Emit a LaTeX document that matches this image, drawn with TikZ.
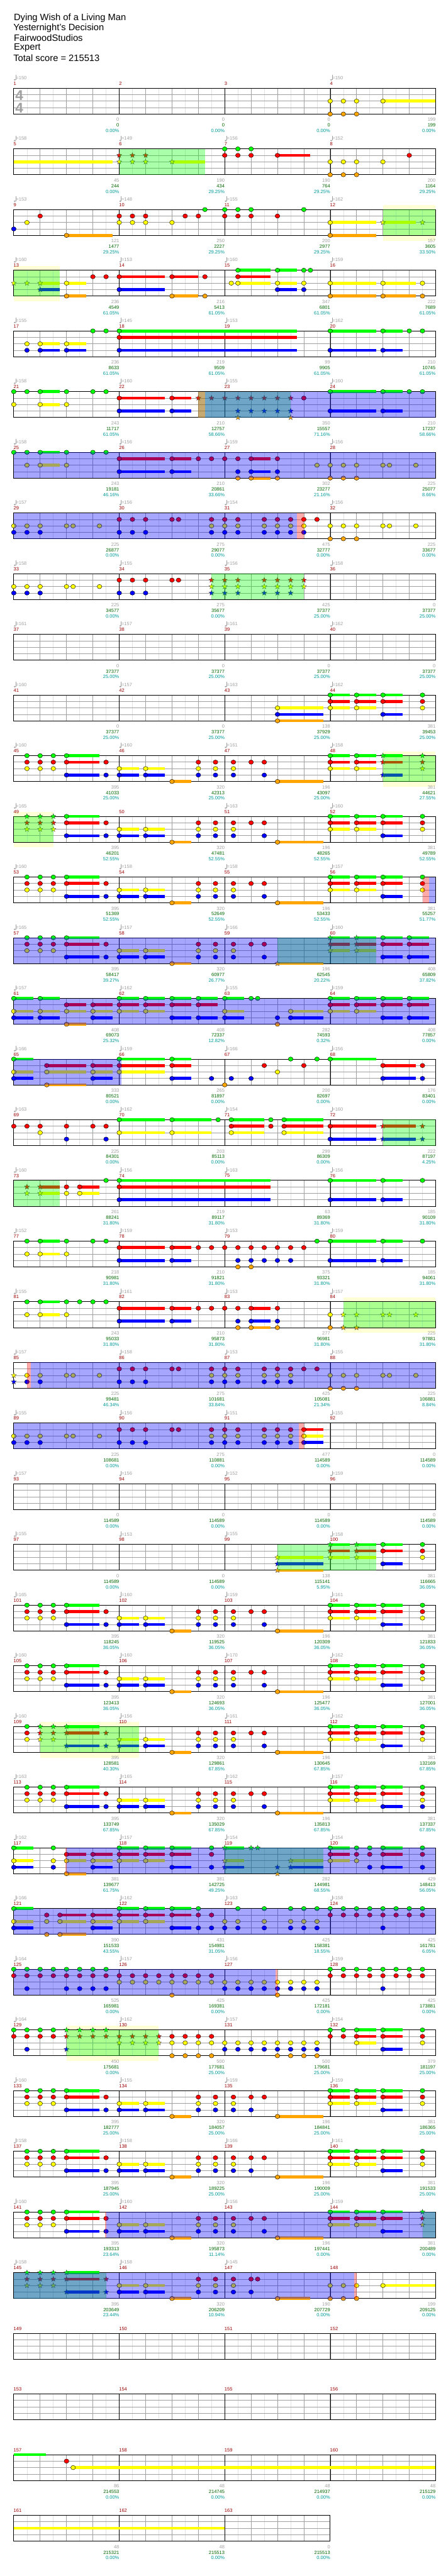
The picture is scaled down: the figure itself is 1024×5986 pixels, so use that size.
\documentclass[tikz,border=0pt]{standalone}
\usepackage{fontspec}
\setmainfont{Liberation Sans}
\usetikzlibrary{shapes.geometric}
\definecolor{fretg}{RGB}{0,255,0}
\definecolor{fretr}{RGB}{255,0,0}
\definecolor{frety}{RGB}{255,255,0}
\definecolor{fretb}{RGB}{0,0,255}
\definecolor{freto}{RGB}{255,165,0}
\definecolor{spgreen}{RGB}{0,255,0}
\definecolor{spblue}{RGB}{0,0,255}
\definecolor{lagred}{RGB}{255,0,0}
\definecolor{unicolor}{RGB}{255,255,214}
\definecolor{numred}{RGB}{153,0,0}
\definecolor{tempogray}{RGB}{160,160,160}
\definecolor{scoregreen}{RGB}{0,102,0}
\definecolor{pctteal}{RGB}{0,153,153}
\definecolor{gridgray}{RGB}{160,160,160}
\definecolor{halfgray}{RGB}{226,226,226}
\pgfdeclarelayer{bg}
\pgfdeclarelayer{fg}
\pgfsetlayers{bg,main,fg}

\def\yg{0}\def\yr{15}\def\yy{30}\def\yb{45}\def\yo{60}
\newcommand\gems[2]{\foreach \xx in {#2}{\node[gem,fill=fret#1] at ({\xx*61.25},\csname y#1\endcsname) {};}}
\newcommand\stars[2]{\foreach \xx in {#2}{\node[stargem,fill=fret#1] at ({\xx*61.25},\csname y#1\endcsname) {};}}
\newcommand\tails[2]{\foreach \aa/\bb in {#2}{\fill[fret#1] ({\aa*61.25},{\csname y#1\endcsname-3.4}) rectangle ({\bb*61.25},{\csname y#1\endcsname+3.4});}}
\newcommand\phrase[2]{\begin{pgfonlayer}{fg}\fill[spgreen,fill opacity=0.333] ({#1*61.25},0) rectangle ({#2*61.25},60);\end{pgfonlayer}}
\newcommand\spzone[2]{\begin{pgfonlayer}{fg}\fill[spblue,fill opacity=0.35] ({#1*61.25},0) rectangle ({#2*61.25},60);\end{pgfonlayer}}
\newcommand\lagzone[2]{\begin{pgfonlayer}{fg}\fill[lagred,fill opacity=0.333] ({#1*61.25},0) rectangle ({#2*61.25},60);\end{pgfonlayer}}
\newcommand\uniband[2]{\begin{pgfonlayer}{bg}\fill[unicolor] ({#1*61.25},-10) rectangle ({#2*61.25},72);\end{pgfonlayer}}

\newcommand\staff[1]{%
  \pgfmathtruncatemacro\nbeat{4*#1}%
  \pgfmathtruncatemacro\nmeas{#1-1}%
  \foreach \j in {1,...,\nbeat}{\draw[halfbeat] ({(\j-0.5)*61.25},0) -- ++(0,60);}
  \foreach \j in {1,...,\nbeat}{\draw[beatline] ({\j*61.25},0) -- ++(0,60);}
  \foreach \l in {15,30,45}{\draw[beatline] (0,\l) -- ({#1*245},\l);}
  \foreach \j in {1,...,\nmeas}{\draw[barline] ({\j*245},0) -- ++(0,60);}
  \draw[frame] (0,0) rectangle ({#1*245},60);}

\newcommand\mlab[6]{%
  \node[mnum] at ({#1*245-0.5},-11) {#2};
  \if\relax\detokenize{#3}\relax\else
    \fill[tempogray] ({#1*245+2.3},-19.5) ellipse (2.3 and 1.7);
    \draw[tempogray,line width=0.7pt] ({#1*245+4.4},-19.5) -- ++(0,-11);
    \node[tempo] at ({#1*245+5},-24) {=#3};
  \fi
  \node[pts] at ({#1*245+245},73) {#4};
  \node[score] at ({#1*245+245},86) {#5};
  \node[pct] at ({#1*245+245},99) {#6};}

\newenvironment{chartrow}[2][4]{\begin{scope}[shift={(32,{205+141*#2})}]\staff{#1}}{\end{scope}}

\newcommand\riffhead{\gems{g}{0.5,1,1.5}\gems{r}{0.5,1,1.5}\gems{y}{0.5,1,1.5}}
\newcommand\riffbody[1][9.5]{%
  \tails{g}{2/3.24}\tails{r}{2/3.24}\tails{y}{4/4.74,5/5.74}
  \tails{b}{2/3.24,4/4.74,5/5.74}\tails{o}{6/6.74}
  \gems{g}{2}\gems{r}{2,3.5,7,7.65,8.33,9,9.5}\gems{y}{4,5,7,7.65,8.33}
  \gems{b}{2,3.5,4,5,7,7.65,8.33,#1}\gems{o}{6}}
\newcommand\riffo{\tails{o}{10/11.74}\gems{o}{10}}
\newcommand\riffend{%
  \tails{g}{12/12.74,13/13.74,14/14.74}\tails{r}{12/12.74,13/13.74,14/14.74}
  \tails{y}{12/12.74,13/13.74}\tails{b}{14/14.74}
  \gems{g}{12,13,14}\gems{r}{12,13,14}\gems{y}{12,13}\gems{b}{14}}
\newcommand\rifftail{\gems{g}{15.5}\gems{r}{15.5}\gems{y}{15.5}}

\begin{document}
\begin{tikzpicture}[x=1pt,y=-1pt,
  title/.style={anchor=west,inner sep=0pt,font=\fontsize{21.5}{24}\selectfont},
  timesig/.style={inner sep=0pt,text=tempogray,font=\fontsize{33}{33}\selectfont\bfseries},
  mnum/.style={anchor=west,inner sep=0pt,text=numred,font=\fontsize{11}{13}\selectfont},
  tempo/.style={anchor=west,inner sep=0pt,text=tempogray,font=\fontsize{11}{13}\selectfont},
  pts/.style={anchor=east,inner sep=0pt,text=tempogray,font=\fontsize{11}{13}\selectfont},
  score/.style={anchor=east,inner sep=0pt,text=scoregreen,font=\fontsize{11}{13}\selectfont},
  pct/.style={anchor=east,inner sep=0pt,text=pctteal,font=\fontsize{11}{13}\selectfont},
  halfbeat/.style={halfgray,line width=0.8pt},
  beatline/.style={gridgray,line width=1.1pt},
  barline/.style={black,line width=0.9pt},
  frame/.style={black,line width=1.4pt},
  gem/.style={ellipse,draw=black,line width=0.6pt,minimum width=11pt,minimum height=10pt,inner sep=0pt},
  stargem/.style={star,star points=5,star point ratio=2.3,draw=black!75,line width=0.5pt,minimum size=12.5pt,inner sep=0pt}]
\useasboundingbox (0,0) rectangle (1024,5986);

\node[title] (song) at (32,41.7) {Dying Wish of a Living Man};
\node[title] (album) at (31,65) {Yesternight's Decision};
\node[title] (charter) at (32,88.3) {FairwoodStudios};
\node[title] (level) at (32,111) {Expert};
\node[title] (total) at (31,134.3) {Total score = 215513};

\begin{chartrow}{0}
\node[timesig] at (12.7,16.7) {4};
\node[timesig] at (12.7,45.7) {4};
\mlab{0}{1}{150}{0}{0}{0.00\%}
\mlab{1}{2}{}{0}{0}{0.00\%}
\mlab{2}{3}{}{0}{0}{0.00\%}
\mlab{3}{4}{150}{199}{199}{0.00\%}
\tails{y}{14/16}
\gems{y}{12,12.5,13,14}
\gems{o}{12,12.5,13}
\end{chartrow}

\begin{chartrow}{1}
\mlab{0}{5}{158}{45}{244}{0.00\%}
\mlab{1}{6}{149}{190}{434}{29.25\%}
\mlab{2}{7}{156}{190}{764}{29.25\%}
\mlab{3}{8}{152}{200}{1164}{29.25\%}
\tails{y}{0/3.74,6/7.25}
\tails{r}{10/11.24}
\stars{r}{4,4.5,5}
\stars{y}{4,4.5,5,6}
\gems{g}{8,8.5,9}
\gems{r}{8,8.5,9,10,15}
\gems{y}{12,12.5,13,14}
\gems{o}{12,12.5,13}
\phrase{4}{7.25}
\end{chartrow}

\begin{chartrow}{2}
\mlab{0}{9}{153}{121}{1477}{29.25\%}
\mlab{1}{10}{148}{250}{2227}{29.25\%}
\mlab{2}{11}{155}{200}{2977}{29.25\%}
\mlab{3}{12}{162}{157}{3605}{33.50\%}
\uniband{14}{16}
\tails{o}{2/3.74,12/13.74}
\tails{y}{12/13.74,14/15.25}
\gems{b}{0}
\gems{y}{0.5,4,4.5,5,6,12}
\gems{r}{1,4,4.5,5,6.5,7,8,8.5,9,10}
\gems{o}{2,12}
\gems{g}{7.25,8,8.5,9,11}
\stars{y}{14,15.5}
\phrase{14}{16}
\end{chartrow}

\begin{chartrow}{3}
\mlab{0}{13}{160}{236}{4549}{61.05\%}
\mlab{1}{14}{153}{216}{5413}{61.05\%}
\mlab{2}{15}{160}{347}{6801}{61.05\%}
\mlab{3}{16}{159}{222}{7689}{61.05\%}
\uniband{0}{1.74}
\tails{y}{1/1.74,2/2.74,8.5/9.74,10/10.74,12/13.74,14/15.25}
\tails{b}{1/1.74,4/5.74,10/10.74}
\tails{o}{2/2.74,6/7,12/13.74,14/15.25}
\tails{r}{4/5.74,6/7,8.5/9.74}
\tails{g}{8.5/9.74,10/10.74}
\stars{y}{0,0.5,1}
\stars{b}{1}
\gems{y}{2,8.25,8.5,10,11,12,14,15.5}
\gems{o}{2,6,7.25,12,14,15.5}
\gems{r}{3,3.5,4,6,7.25,8.5}
\gems{b}{4,10,11}
\gems{g}{8.5,10,11,11.25}
\phrase{0}{1.74}
\end{chartrow}

\begin{chartrow}{4}
\mlab{0}{17}{155}{236}{8633}{61.05\%}
\mlab{1}{18}{145}{219}{9509}{61.05\%}
\mlab{2}{19}{153}{99}{9905}{61.05\%}
\mlab{3}{20}{162}{210}{10745}{61.05\%}
\tails{g}{4/10.74,12/13.74,14/14.74}
\tails{r}{4/10.74}
\tails{y}{1/1.74,2/2.74}
\tails{b}{1/1.74,2/2.74,4/10.74,12/13.74,14/14.74}
\gems{g}{3,3.5,4,12,14,15,15.5}
\gems{r}{4}
\gems{y}{0.5,1,2}
\gems{b}{0.5,1,2,4,12,14}
\end{chartrow}

\begin{chartrow}{5}
\mlab{0}{21}{158}{243}{11717}{61.05\%}
\mlab{1}{22}{160}{210}{12757}{58.66\%}
\mlab{2}{23}{155}{350}{15557}{71.16\%}
\mlab{3}{24}{160}{210}{17237}{58.66\%}
\tails{g}{1/1.74,12/13.74,14/14.74}
\tails{y}{1/1.74}
\tails{r}{4/5.74,6/6.74}
\tails{b}{4/5.74,6/6.74,12/13.74,14/14.74}
\gems{g}{0,0.5,1,2,3,3.5,12,14,15,15.5}
\gems{y}{0,1,2}
\gems{r}{4,6,11}
\gems{b}{4,6,12,14}
\stars{r}{7,7.5,8,8.5,9,9.5,10,10.5}
\stars{b}{8.5,9,9.5,10,10.5}
\stars{o}{8.5,10.5}
\phrase{7}{10.5}
\lagzone{7}{7.25}
\spzone{7.25}{16}
\end{chartrow}

\begin{chartrow}{6}
\mlab{0}{25}{158}{243}{19181}{46.16\%}
\mlab{1}{26}{156}{210}{20861}{33.66\%}
\mlab{2}{27}{159}{302}{23277}{21.16\%}
\mlab{3}{28}{156}{225}{25077}{8.66\%}
\tails{g}{1/1.74}
\tails{y}{1/1.74}
\tails{r}{4/5.74,6/6.74,9/9.74}
\tails{b}{4/5.74,6/6.74,9/9.74}
\tails{o}{9/9.74}
\gems{g}{0,0.5,1,2,3,3.5}
\gems{y}{0.5,1,2,11.5,12,12.5,13,14,14.25,15.25}
\gems{r}{4,6,7,7.5,8,8.5,9,10}
\gems{b}{4,6,8.5,9,10}
\gems{o}{8.5,9,10,12,12.5,13}
\spzone{0}{16}
\end{chartrow}

\begin{chartrow}{7}
\mlab{0}{29}{157}{225}{26877}{0.00\%}
\mlab{1}{30}{156}{275}{29077}{0.00\%}
\mlab{2}{31}{154}{475}{32777}{0.00\%}
\mlab{3}{32}{156}{225}{33677}{0.00\%}
\gems{y}{0,0.5,1,2,2.25,3.25,7.5,8,8.5,9.5,10,10.5,11,12,12.5,13,14,14.25,15.25}
\gems{b}{0,0.5,1,4,4.5,5,7.5,8,8.5,9.5,10,10.5,11}
\gems{r}{4,4.5,5,6,6.25,7.5,8,8.5,9.5,10,10.5,11,11.5}
\gems{o}{12,12.5,13}
\spzone{0}{10.74}
\lagzone{10.74}{11}
\end{chartrow}

\begin{chartrow}{8}
\mlab{0}{33}{158}{225}{34577}{0.00\%}
\mlab{1}{34}{155}{275}{35677}{0.00\%}
\mlab{2}{35}{156}{425}{37377}{25.00\%}
\mlab{3}{36}{158}{0}{37377}{25.00\%}
\gems{y}{0,0.5,1,2,2.25,3.25}
\gems{b}{0,0.5,1,4,4.5,5}
\gems{r}{4,4.5,5,6,6.25}
\stars{r}{7.5,8,8.5,9.5,10,10.5,11}
\stars{y}{7.5,8,8.5,9.5,10,10.5,11}
\stars{b}{7.5,8,8.5,9.5,10,10.5}
\phrase{7.5}{11}
\end{chartrow}

\begin{chartrow}{9}
\mlab{0}{37}{161}{0}{37377}{25.00\%}
\mlab{1}{38}{157}{0}{37377}{25.00\%}
\mlab{2}{39}{161}{0}{37377}{25.00\%}
\mlab{3}{40}{162}{0}{37377}{25.00\%}
\end{chartrow}

\begin{chartrow}{10}
\mlab{0}{41}{160}{0}{37377}{25.00\%}
\mlab{1}{42}{157}{0}{37377}{25.00\%}
\mlab{2}{43}{163}{138}{37929}{25.00\%}
\mlab{3}{44}{162}{381}{39453}{25.00\%}
\tails{g}{12/12.74,13/13.74,14/14.74}
\tails{r}{12/12.74,13/13.74,14/14.74}
\tails{y}{10/11.74,12/12.74,13/13.74}
\tails{b}{10/11.74,14/14.74}
\tails{o}{10/11.74}
\gems{g}{12,13,14,15.5}
\gems{r}{12,13,14,15.5}
\gems{y}{10,12,13,15.5}
\gems{b}{10,14}
\gems{o}{10}
\end{chartrow}

\begin{chartrow}{11}
\mlab{0}{45}{160}{395}{41033}{25.00\%}
\mlab{1}{46}{160}{320}{42313}{25.00\%}
\mlab{2}{47}{161}{196}{43097}{25.00\%}
\mlab{3}{48}{158}{381}{44621}{27.55\%}
\uniband{14}{16}
\riffhead\riffbody\riffo
\tails{g}{12/12.74,13/13.74,14/14.74}
\tails{r}{12/12.74,13/13.74,14/14.74}
\tails{y}{12/12.74,13/13.74}
\tails{b}{14/14.74}
\gems{g}{12,13}
\gems{r}{12,13}
\gems{y}{12,13}
\stars{g}{14,15.5}
\stars{r}{14,15.5}
\stars{y}{15.5}
\stars{b}{14}
\phrase{14}{16}
\end{chartrow}

\begin{chartrow}{12}
\mlab{0}{49}{165}{395}{46201}{52.55\%}
\mlab{1}{50}{}{320}{47481}{52.55\%}
\mlab{2}{51}{163}{196}{48265}{52.55\%}
\mlab{3}{52}{160}{381}{49789}{52.55\%}
\uniband{0}{1.5}
\stars{g}{0.5,1,1.5}
\stars{r}{0.5,1,1.5}
\stars{y}{0.5,1,1.5}
\riffbody\riffo\riffend\rifftail
\phrase{0}{1.5}
\end{chartrow}

\begin{chartrow}{13}
\mlab{0}{53}{160}{395}{51369}{52.55\%}
\mlab{1}{54}{158}{320}{52649}{52.55\%}
\mlab{2}{55}{158}{196}{53433}{52.55\%}
\mlab{3}{56}{157}{381}{55257}{51.77\%}
\riffhead\riffbody\riffo\riffend\rifftail
\lagzone{15.5}{15.75}
\spzone{15.75}{16}
\end{chartrow}

\begin{chartrow}{14}
\mlab{0}{57}{165}{395}{58417}{39.27\%}
\mlab{1}{58}{157}{320}{60977}{26.77\%}
\mlab{2}{59}{166}{196}{62545}{20.22\%}
\mlab{3}{60}{160}{408}{65809}{37.82\%}
\riffhead\riffbody
\tails{o}{10/11.74}
\tails{g}{12/12.74,13/13.74,14/14.74,15/15.74}
\tails{r}{12/12.74,13/13.74,14/14.74,15/15.74}
\tails{y}{12/12.74,13/13.74}
\tails{b}{14/14.74,15/15.74}
\stars{o}{10}
\stars{g}{12,13}
\stars{r}{12,13}
\stars{y}{12,13}
\gems{g}{14,15}
\gems{r}{14,15}
\gems{b}{14,15}
\phrase{10}{13.74}
\spzone{0}{16}
\end{chartrow}

\begin{chartrow}{15}
\mlab{0}{61}{157}{408}{69073}{25.32\%}
\mlab{1}{62}{162}{408}{72337}{12.82\%}
\mlab{2}{63}{155}{282}{74593}{0.32\%}
\mlab{3}{64}{159}{408}{77857}{0.00\%}
\tails{g}{0/0.74,1/1.74,4/4.74,5/5.74,6/6.74,7/7.74,8/8.74,12/12.74,13/13.74,14/14.74,15/15.74}
\tails{r}{2/2.74,3/3.74,4/4.74,5/5.74,6/6.74,7/7.74,12/12.74,13/13.74,14/14.74,15/15.74}
\tails{y}{0/0.74,1/1.74,2/2.74,3/3.74,4/4.74,5/5.74,8/8.74,10.5/11.74,12/12.74,13/13.74}
\tails{b}{0/0.74,1/1.74,3/3.74,6/6.74,7/7.74,8/8.74,10.5/11.74,14/14.74,15/15.74}
\tails{o}{2/2.74}
\gems{g}{0,1,4,5,6,7,8,9,9.25,12,13,14,15}
\gems{r}{2,3,4,5,6,7,12,13,14,15}
\gems{y}{0,1,2,3,4,5,8,10.5,12,13}
\gems{b}{0,1,3,6,7,8,10,10.5,14,15}
\gems{o}{2,10}
\spzone{0}{16}
\end{chartrow}

\begin{chartrow}{16}
\mlab{0}{65}{166}{333}{80521}{0.00\%}
\mlab{1}{66}{159}{265}{81897}{0.00\%}
\mlab{2}{67}{166}{200}{82697}{0.00\%}
\mlab{3}{68}{156}{176}{83401}{0.00\%}
\tails{g}{0/0.74,4/5.74,6/6.74,12/13.74}
\tails{r}{1.25/2.74,3/3.74,4/5.74,6/6.74,14/15.25}
\tails{y}{0/0.74,1.25/2.74,3/3.74,4/5.74}
\tails{b}{0/0.74,3/3.74,6/6.74,14/15.25}
\tails{o}{1.25/2.74}
\gems{g}{0,4,6,10.5,11.5,12}
\gems{r}{1.25,3,4,6,9.5,11,14,15.5}
\gems{y}{0,1.25,3,4,10}
\gems{b}{0,3,6,7.5,8.25,9,14,15.5}
\gems{o}{1.25,8}
\spzone{0}{4.08}
\end{chartrow}

\begin{chartrow}{17}
\mlab{0}{69}{163}{225}{84301}{0.00\%}
\mlab{1}{70}{162}{203}{85113}{0.00\%}
\mlab{2}{71}{154}{299}{86309}{0.00\%}
\mlab{3}{72}{160}{222}{87197}{4.25\%}
\tails{g}{4/5.74,6/7.5,8.25/9.49,10.25/11.74}
\tails{r}{8.25/9.49,10.25/11.74,12/13.74,14/15.25}
\tails{y}{4/5.74,6/7.5,8.25/9.49,10.25/11.74}
\tails{b}{12/13.74,14/15.25}
\gems{r}{0,0.5,1,2,3,3.5,8.25,9.75,10.25,12}
\gems{y}{1,4,6,8.25,10.25}
\gems{b}{2,3.5,12}
\gems{g}{4,6,7.75,8.25,9.75,10.25}
\stars{r}{14,15.5}
\stars{b}{14,15.5}
\phrase{14}{16}
\end{chartrow}

\begin{chartrow}{18}
\mlab{0}{73}{160}{261}{88241}{31.80\%}
\mlab{1}{74}{156}{219}{89117}{31.80\%}
\mlab{2}{75}{163}{63}{89369}{31.80\%}
\mlab{3}{76}{156}{185}{90109}{31.80\%}
\tails{r}{1/1.74,2.5/3.24,4/9.74}
\tails{y}{1/1.74,2.5/3.24}
\tails{g}{4/9.74,12/13.74,14/14.74}
\tails{b}{4/9.74,12/13.74,14/14.74}
\stars{r}{0.5,1}
\stars{y}{0.5,1}
\gems{r}{2,2.5,4}
\gems{y}{2,2.5}
\gems{g}{3.5,4,12,14,15.5}
\gems{b}{4,12,14}
\phrase{0}{1.74}
\end{chartrow}

\begin{chartrow}{19}
\mlab{0}{77}{152}{218}{90981}{31.80\%}
\mlab{1}{78}{159}{210}{91821}{31.80\%}
\mlab{2}{79}{153}{375}{93321}{31.80\%}
\mlab{3}{80}{159}{185}{94061}{31.80\%}
\tails{g}{1/1.74,12/13.74,14/14.74}
\tails{y}{1/1.74}
\tails{r}{4/5.74,6/6.74}
\tails{b}{4/5.74,6/6.74,12/13.74,14/14.74}
\gems{g}{0.5,1,2,3,3.5,11.5,12,14,15.5}
\gems{y}{0.5,1,2}
\gems{r}{4,6,7,7.5,8,8.5,9,9.5,10,10.5,11}
\gems{b}{4,6,8.5,9,9.5,10,10.5,12,14}
\gems{o}{8.5,9}
\end{chartrow}

\begin{chartrow}{20}
\mlab{0}{81}{155}{243}{95033}{31.80\%}
\mlab{1}{82}{161}{210}{95873}{31.80\%}
\mlab{2}{83}{153}{277}{96981}{31.80\%}
\mlab{3}{84}{157}{225}{97881}{31.80\%}
\uniband{12.5}{16}
\tails{g}{1/1.74}
\tails{y}{1/1.74}
\tails{r}{4/5.74,6/6.74,9/9.74}
\tails{b}{4/5.74,6/6.74,9/9.74}
\tails{o}{9/9.74}
\gems{g}{0.5,1,2,2.5,3,3.5}
\gems{y}{0.5,1,2,12}
\gems{r}{4,6,7,7.5,8,8.5,9,10}
\gems{b}{4,6,8.5,9,10}
\gems{o}{8.5,9,10,12}
\stars{y}{12.5,13,14,14.25,15.25}
\stars{o}{12.5,13}
\phrase{12.5}{16}
\end{chartrow}

\begin{chartrow}{21}
\mlab{0}{85}{157}{225}{99481}{46.34\%}
\mlab{1}{86}{158}{275}{101681}{33.84\%}
\mlab{2}{87}{153}{425}{105081}{21.34\%}
\mlab{3}{88}{155}{225}{106881}{8.84\%}
\stars{y}{0}
\stars{b}{0}
\gems{y}{0.5,1,2,2.25,3.25,7.5,8,8.5,9.5,10,10.5,12,12.5,13,14,14.25,15.25}
\gems{b}{0.5,1,4,4.5,5,7.5,8,8.5,9.5,10,10.5}
\gems{r}{4,4.5,5,6,6.25,7.5,8,8.5,9.5,10,10.5,11,11.5}
\gems{o}{12,12.5,13}
\lagzone{0.5}{0.64}
\spzone{0.64}{16}
\end{chartrow}

\begin{chartrow}{22}
\mlab{0}{89}{155}{225}{108681}{0.00\%}
\mlab{1}{90}{156}{275}{110881}{0.00\%}
\mlab{2}{91}{151}{477}{114589}{0.00\%}
\mlab{3}{92}{155}{0}{114589}{0.00\%}
\tails{r}{11/11.74}
\tails{y}{11/11.74}
\tails{b}{11/11.74}
\gems{y}{0,0.5,1,2,2.25,3.25,7.5,8,8.5,9.5,10,10.5,11}
\gems{b}{0,0.5,1,4,4.5,5,7.5,8,8.5,9.5,10,10.5,11}
\gems{r}{4,4.5,5,6,6.25,7.5,8,8.5,9.5,10,10.5,11}
\spzone{0}{10.81}
\lagzone{10.81}{11}
\end{chartrow}

\begin{chartrow}{23}
\mlab{0}{93}{157}{0}{114589}{0.00\%}
\mlab{1}{94}{156}{0}{114589}{0.00\%}
\mlab{2}{95}{152}{0}{114589}{0.00\%}
\mlab{3}{96}{159}{0}{114589}{0.00\%}
\end{chartrow}

\begin{chartrow}{24}
\mlab{0}{97}{155}{0}{114589}{0.00\%}
\mlab{1}{98}{153}{0}{114589}{0.00\%}
\mlab{2}{99}{155}{138}{115141}{5.95\%}
\mlab{3}{100}{158}{381}{116665}{36.05\%}
\tails{y}{10/11.74,12/12.74,13/13.74}
\tails{b}{10/11.74,14/14.74}
\tails{o}{10/11.74}
\tails{g}{12/12.74,13/13.74,14/14.74}
\tails{r}{12/12.74,13/13.74,14/14.74}
\stars{y}{10,12,13}
\stars{b}{10}
\stars{o}{10}
\stars{g}{12,13}
\stars{r}{12,13}
\gems{g}{14,15.5}
\gems{r}{14,15.5}
\gems{y}{15.5}
\gems{b}{14}
\phrase{10}{13.74}
\end{chartrow}

\begin{chartrow}{25}
\mlab{0}{101}{165}{395}{118245}{36.05\%}
\mlab{1}{102}{160}{320}{119525}{36.05\%}
\mlab{2}{103}{159}{196}{120309}{36.05\%}
\mlab{3}{104}{161}{381}{121833}{36.05\%}
\riffhead\riffbody\riffo\riffend\rifftail
\end{chartrow}

\begin{chartrow}{26}
\mlab{0}{105}{160}{395}{123413}{36.05\%}
\mlab{1}{106}{160}{320}{124693}{36.05\%}
\mlab{2}{107}{170}{196}{125477}{36.05\%}
\mlab{3}{108}{162}{381}{127001}{36.05\%}
\riffhead\riffbody\riffo\riffend\rifftail
\end{chartrow}

\begin{chartrow}{27}
\mlab{0}{109}{160}{395}{128581}{40.30\%}
\mlab{1}{110}{156}{320}{129861}{67.85\%}
\mlab{2}{111}{161}{196}{130645}{67.85\%}
\mlab{3}{112}{162}{381}{132169}{67.85\%}
\uniband{1}{4.74}
\tails{g}{2/3.24}
\tails{r}{2/3.24}
\tails{y}{4/4.74,5/5.74}
\tails{b}{2/3.24,4/4.74,5/5.74}
\tails{o}{6/6.74}
\gems{g}{0.5}
\gems{r}{0.5,7,7.65,8.33,9,9.5}
\gems{y}{0.5,5,7,7.65,8.33}
\gems{b}{5,7,7.65,8.33,9.5}
\gems{o}{6}
\stars{g}{1,1.5,2}
\stars{r}{1,1.5,2,3.5}
\stars{y}{1,1.5,4}
\stars{b}{2,3.5,4}
\riffo\riffend\rifftail
\phrase{1}{4.74}
\end{chartrow}

\begin{chartrow}{28}
\mlab{0}{113}{163}{395}{133749}{67.85\%}
\mlab{1}{114}{165}{320}{135029}{67.85\%}
\mlab{2}{115}{162}{196}{135813}{67.85\%}
\mlab{3}{116}{157}{381}{137337}{67.85\%}
\riffhead\riffbody\riffo\riffend\rifftail
\gems{b}{15.5}
\end{chartrow}

\begin{chartrow}{29}
\mlab{0}{117}{162}{381}{139677}{61.75\%}
\mlab{1}{118}{157}{381}{142725}{49.25\%}
\mlab{2}{119}{154}{282}{144981}{68.55\%}
\mlab{3}{120}{154}{429}{148413}{56.05\%}
\tails{g}{0/0.74,4/4.74,5/5.74,6/6.74,8/8.74,12/12.74,14/14.74}
\tails{r}{2/2.74,3/3.74,4/4.74,5/5.74,6/6.74,12/12.74,14/14.74}
\tails{y}{0/0.74,2/2.74,3/3.74,4/4.74,5/5.74,8/8.74,10.5/11.74,12/12.74}
\tails{b}{0/0.74,3/3.74,6/6.74,8/8.74,10.5/11.74,14/14.74}
\tails{o}{2/2.74}
\gems{g}{0,1.5,4,5,6,7.5,12,13,13.5,14,15.5}
\gems{r}{2,3,4,5,6,7.5,12,13,13.5,14,15.5}
\gems{y}{0,1.5,2,3,4,5,12,13}
\gems{b}{0,1.5,3,6,7.5,13.5,14,15.5}
\gems{o}{2}
\stars{g}{8,9,9.25}
\stars{y}{8,10.5}
\stars{b}{8,10,10.5}
\stars{o}{10}
\phrase{8}{11.74}
\lagzone{1.97}{2}
\spzone{2}{16}
\end{chartrow}

\begin{chartrow}{30}
\mlab{0}{121}{166}{390}{151533}{43.55\%}
\mlab{1}{122}{162}{431}{154981}{31.05\%}
\mlab{2}{123}{163}{425}{158381}{18.55\%}
\mlab{3}{124}{158}{425}{161781}{6.05\%}
\tails{g}{0/0.74,4/4.74,5/5.74,6/6.74}
\tails{r}{1.75/2.74,3/3.74,4/4.74,5/5.74,6/6.74}
\tails{y}{0/0.74,1.75/2.74,3/3.74,4/4.74,5/5.74}
\tails{b}{0/0.74,3/3.74,6/6.74}
\tails{o}{1.75/2.74}
\gems{g}{0,4,5,6,7,8.5,9.5,10.5,11,11.5,12,12.5,13,13.5,14,14.5,15,15.5}
\gems{r}{1.25,1.75,3,4,5,6,7,7.5,12,12.5,13,13.5,14,14.5,15,15.5}
\gems{y}{0,1.25,1.75,3,4,5,8,8.5,9.5,10.5,11,11.5}
\gems{b}{0,3,6,7,7.5,8,8.5,9.5,10.5,11,11.5,14}
\gems{o}{1.25,1.75}
\spzone{0}{16}
\end{chartrow}

\begin{chartrow}{31}
\mlab{0}{125}{164}{525}{165981}{0.00\%}
\mlab{1}{126}{157}{425}{169381}{0.00\%}
\mlab{2}{127}{156}{425}{172181}{0.00\%}
\mlab{3}{128}{159}{425}{173881}{0.00\%}
\gems{g}{0,0.5,1,1.5,2,2.5,3,3.5,12,12.5,13,13.5,14,14.5,15,15.5}
\gems{r}{0,0.5,1,1.5,2,2.5,3,3.5,4,4.5,5,5.5,6,6.5,7,7.5,12,12.5,13,13.5,14,14.5,15,15.5}
\gems{y}{4,4.5,5,5.5,6,6.5,7,7.5,8,8.5,9,9.5,10,10.5,11,11.5}
\gems{b}{0.5,2,2.5,3,3.5,8,8.5,9,9.5,10,10.5,11,11.5,14}
\gems{o}{6,10}
\spzone{0}{9.93}
\lagzone{9.93}{10}
\end{chartrow}

\begin{chartrow}{32}
\mlab{0}{129}{164}{450}{175681}{0.00\%}
\mlab{1}{130}{162}{500}{177681}{25.00\%}
\mlab{2}{131}{157}{500}{179681}{25.00\%}
\mlab{3}{132}{154}{379}{181197}{25.00\%}
\uniband{2}{5.5}
\tails{g}{13/13.74,14/14.74}
\tails{r}{13/13.74,14/14.74}
\tails{y}{13/13.74}
\tails{b}{14/14.74}
\gems{g}{0,0.5,1,1.5,12,12.5,13,14,15.5}
\gems{r}{0,0.5,1,1.5,6,6.5,7,7.5,12,12.5,13,14,15.5}
\gems{y}{6,6.5,7,7.5,8,8.5,9,9.5,10,10.5,11,11.5,13,15.5}
\gems{b}{0.5,8,8.5,9,9.5,10,10.5,11,11.5,14}
\gems{o}{6,6.5,7,7.5,10,10.5,11,11.5}
\stars{g}{2,2.5,3,3.5}
\stars{r}{2,2.5,3,3.5,4,4.5,5,5.5}
\stars{y}{4,4.5,5,5.5}
\stars{b}{2}
\phrase{2}{5.5}
\end{chartrow}

\begin{chartrow}{33}
\mlab{0}{133}{160}{395}{182777}{25.00\%}
\mlab{1}{134}{155}{320}{184057}{25.00\%}
\mlab{2}{135}{159}{196}{184841}{25.00\%}
\mlab{3}{136}{159}{381}{186365}{25.00\%}
\riffhead\riffbody[9]\riffo\riffend\rifftail
\end{chartrow}

\begin{chartrow}{34}
\mlab{0}{137}{158}{395}{187945}{25.00\%}
\mlab{1}{138}{158}{320}{189225}{25.00\%}
\mlab{2}{139}{166}{196}{190009}{25.00\%}
\mlab{3}{140}{161}{381}{191533}{25.00\%}
\riffhead\riffbody[9]\riffo\riffend\rifftail
\end{chartrow}

\begin{chartrow}{35}
\mlab{0}{141}{160}{395}{193313}{23.64\%}
\mlab{1}{142}{160}{320}{195873}{11.14\%}
\mlab{2}{143}{156}{196}{197441}{0.00\%}
\mlab{3}{144}{159}{381}{200489}{0.00\%}
\riffhead\riffbody\riffo\riffend
\stars{g}{15.5}
\stars{r}{15.5}
\stars{y}{15.5}
\phrase{15.5}{16}
\lagzone{3.47}{3.5}
\spzone{3.5}{16}
\end{chartrow}

\begin{chartrow}{36}
\mlab{0}{145}{158}{395}{203649}{23.44\%}
\mlab{1}{146}{158}{320}{206209}{10.94\%}
\mlab{2}{147}{145}{190}{207729}{0.00\%}
\mlab{3}{148}{}{199}{209125}{0.00\%}
\tails{g}{2/3.24}
\tails{r}{2/3.24}
\tails{y}{4/4.74,5/5.74,14/16}
\tails{b}{2/3.24,4/4.74,5/5.74}
\tails{o}{6/6.74,10/11.24}
\stars{g}{0.5,1,1.5,2}
\stars{r}{0.5,1,1.5,2,3.5}
\stars{y}{0.5,1,1.5}
\stars{b}{2,3.5}
\gems{r}{7,7.65,8.33,9,9.25}
\gems{y}{4,5,7,7.65,8.33,12,12.5,13,14}
\gems{b}{4,5,7,7.65,8.33,9}
\gems{o}{6,10,12,12.5,13}
\phrase{0}{3.5}
\spzone{0}{12.91}
\lagzone{12.91}{13}
\end{chartrow}

\begin{chartrow}{37}
\mlab{0}{149}{}{}{}{}
\mlab{1}{150}{}{}{}{}
\mlab{2}{151}{}{}{}{}
\mlab{3}{152}{}{}{}{}
\end{chartrow}

\begin{chartrow}{38}
\mlab{0}{153}{}{}{}{}
\mlab{1}{154}{}{}{}{}
\mlab{2}{155}{}{}{}{}
\mlab{3}{156}{}{}{}{}
\end{chartrow}

\begin{chartrow}{39}
\mlab{0}{157}{}{86}{214553}{0.00\%}
\mlab{1}{158}{}{48}{214745}{0.00\%}
\mlab{2}{159}{}{48}{214937}{0.00\%}
\mlab{3}{160}{}{48}{215129}{0.00\%}
\tails{g}{0/1.23}
\tails{y}{2.25/16}
\gems{r}{2}
\gems{y}{2.25}
\end{chartrow}

\begin{chartrow}[3]{40}
\mlab{0}{161}{}{48}{215321}{0.00\%}
\mlab{1}{162}{}{48}{215513}{0.00\%}
\mlab{2}{163}{}{0}{215513}{0.00\%}
\tails{y}{0/8}
\end{chartrow}
\end{tikzpicture}
\end{document}
